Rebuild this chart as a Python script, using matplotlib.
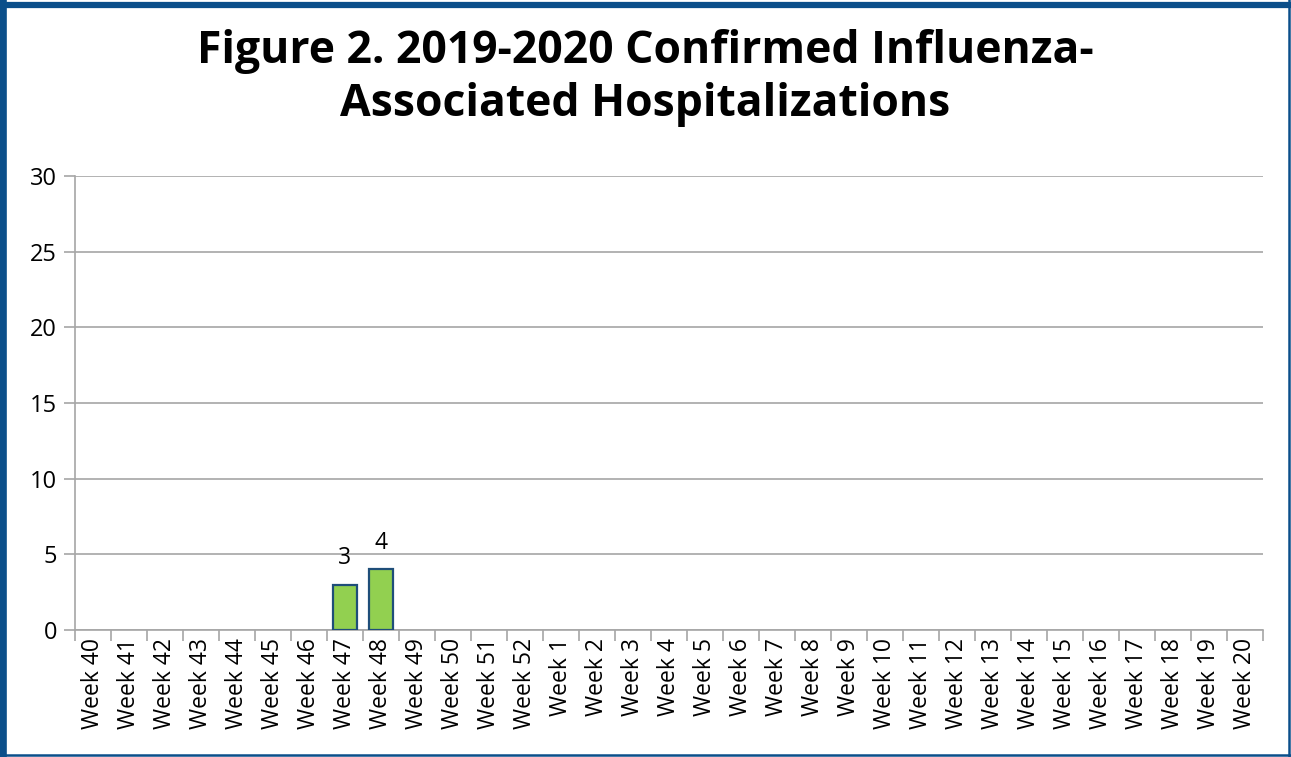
import numpy as np
import matplotlib.pyplot as plt
from matplotlib.lines import Line2D

weeks = ['Week %d' % w for w in range(40, 53)] + ['Week %d' % w for w in range(1, 21)]
cases = [0, 0, 0, 0, 0, 0, 0, 3, 4] + [0] * 24
title = 'Figure 2. 2019-2020 Confirmed Influenza-\nAssociated Hospitalizations'

plt.rcParams['font.family'] = ['Open Sans', 'DejaVu Sans']

fig = plt.figure(figsize=(12.91, 7.57), dpi=100)
ax = fig.add_axes([0.0581, 0.1678, 0.9199, 0.5997])

x = np.arange(len(weeks))
vals = np.array(cases)
nz = vals > 0
ax.bar(x[nz], vals[nz], width=0.67, color='#92D050', edgecolor='#1F4E79', linewidth=1.6, zorder=3)
for xi, v in zip(x[nz], vals[nz]):
    ax.text(xi, v + 1.75, str(v), ha='center', va='center', fontsize=16.5)

ax.set_xlim(-0.5, len(weeks) - 0.5)
ax.set_ylim(0, 30)
ax.set_yticks(range(0, 31, 5))
ax.yaxis.grid(True, color='#A6A6A6', linewidth=1.2)
ax.set_axisbelow(True)
for s in ['top', 'right']:
    ax.spines[s].set_visible(False)
for s in ['left', 'bottom']:
    ax.spines[s].set_color('#A6A6A6')
    ax.spines[s].set_linewidth(1.2)

ax.set_xticks(np.arange(-0.5, len(weeks), 1), minor=False)
ax.set_xticklabels([])
ax.set_xticks(x, minor=True)
ax.set_xticklabels(weeks, minor=True, rotation=90, fontsize=16.5)
ax.tick_params(axis='x', which='major', length=8, color='#A6A6A6', width=1.2)
ax.tick_params(axis='x', which='minor', length=0, pad=6)
ax.tick_params(axis='y', length=8, color='#A6A6A6', width=1.2, labelsize=17, pad=5)

fig.text(0.5, 0.897, title, ha='center', va='center', fontsize=32, fontweight='bold',
         linespacing=1.23)

# frame: heavier on left/top, thin on right/bottom
blue = '#0B4F8A'
fig.add_artist(Line2D([0.0027, 0.0027], [0, 1], transform=fig.transFigure, color=blue, lw=5.5))
fig.add_artist(Line2D([0, 1], [0.993, 0.993], transform=fig.transFigure, color=blue, lw=4.5))
fig.add_artist(Line2D([0.9985, 0.9985], [0, 1], transform=fig.transFigure, color=blue, lw=1.8))
fig.add_artist(Line2D([0, 1], [0.0025, 0.0025], transform=fig.transFigure, color=blue, lw=1.8))

fig.savefig('out.png', dpi=100)
